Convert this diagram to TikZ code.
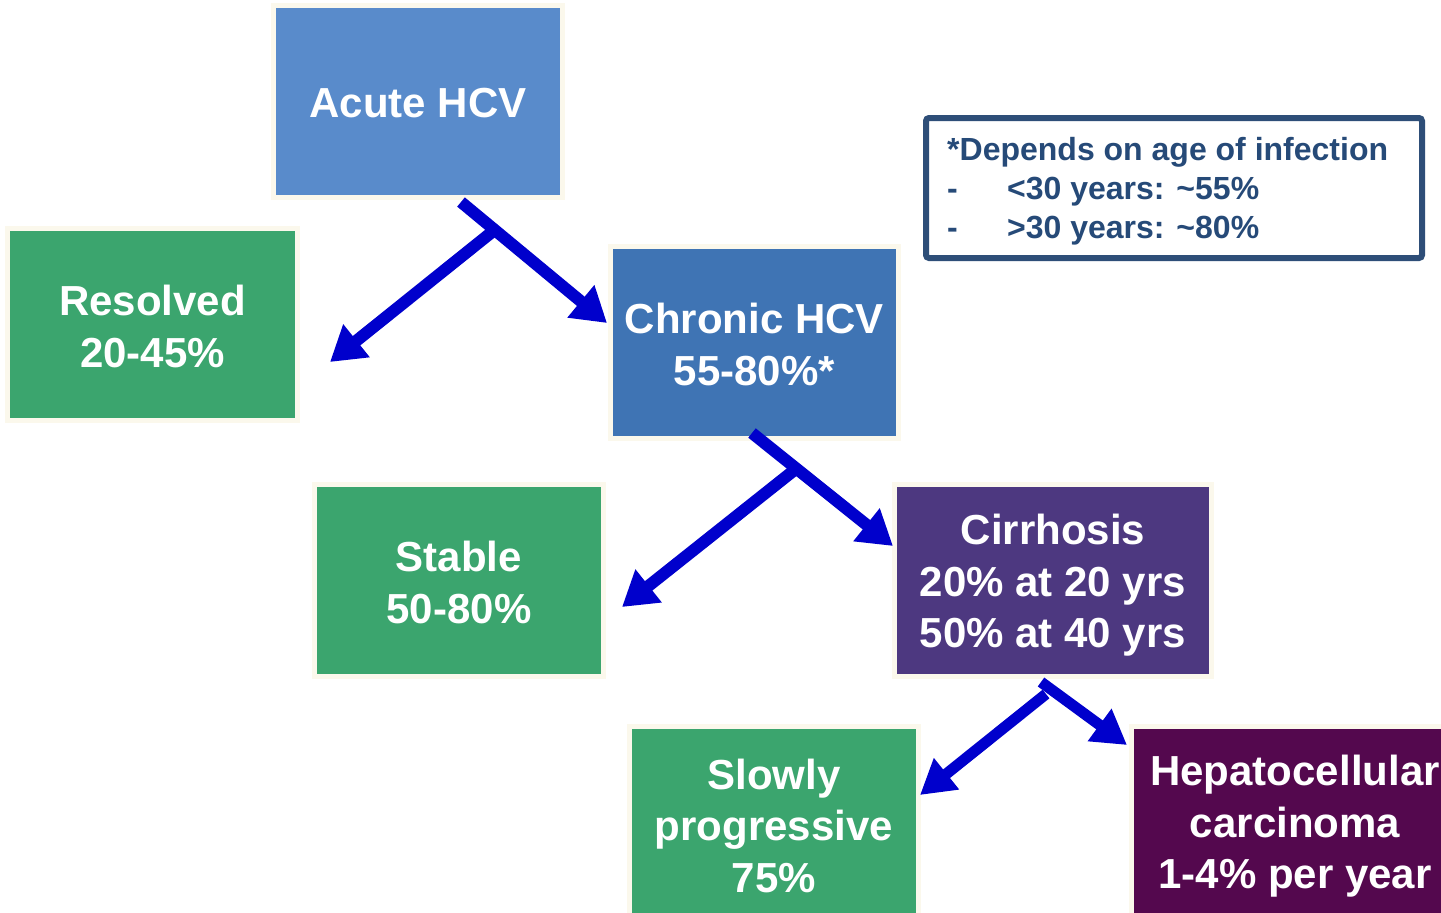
\documentclass[tikz,border=0pt]{standalone}
\usepackage{fontspec}
\setmainfont{Liberation Sans}
\usetikzlibrary{arrows.meta}
\definecolor{cream}{HTML}{FBF8EC}
\definecolor{acuteblue}{HTML}{598BCB}
\definecolor{chronicblue}{HTML}{3F74B4}
\definecolor{boxgreen}{HTML}{3BA56E}
\definecolor{cirrpurple}{HTML}{4D3880}
\definecolor{hccpurple}{HTML}{54084E}
\definecolor{arrowblue}{HTML}{0000CC}
\definecolor{notedark}{HTML}{2E4E78}
\definecolor{notetext}{HTML}{264A78}
\begin{document}
\begin{tikzpicture}[x=1pt,y=-1pt,
  stagebox/.style={draw=cream, line width=5pt, minimum height=192pt, inner sep=0pt},
  stagetext/.style={text=white, align=center, inner sep=0pt,
    font=\bfseries\fontsize{42}{51.5}\selectfont},
  flowarrow/.style={draw=arrowblue, line width=12pt, line cap=butt,
    -{Triangle[length=34pt,width=40pt]}},
  smallarrow/.style={draw=arrowblue, line width=11pt, line cap=butt,
    -{Triangle[length=34pt,width=38pt]}},
  notebox/.style={draw=notedark, line width=6pt, rounded corners=3pt, fill=white,
    minimum width=496pt, minimum height=140pt},
  notetxt/.style={text=notetext, align=left, inner sep=0pt,
    font=\bfseries\fontsize{32}{39}\selectfont}
]
\clip (0,0) rectangle (1441,913);
\useasboundingbox (0,0) rectangle (1441,913);
\fill[white] (0,0) rectangle (1441,913);

\node[stagebox, fill=acuteblue, minimum width=289pt] (acute) at (418,101.5) {};
\node[stagetext] (acutet) at ([yshift=-2pt]acute.center) {Acute HCV};
\node[stagebox, fill=boxgreen, minimum width=290pt] (resolved) at (152.5,324.5) {};
\node[stagetext] (resolvedt) at ([yshift=-2pt]resolved.center) {Resolved\\20-45\%};
\node[stagebox, fill=chronicblue, minimum width=288pt] (chronic) at (754.5,342.5) {};
\node[stagetext] (chronict) at ([yshift=-2pt]chronic.center) {Chronic HCV\\55-80\%*};
\node[stagebox, fill=boxgreen, minimum width=289pt] (stable) at (459,580.5) {};
\node[stagetext] (stablet) at ([yshift=-2pt]stable.center) {Stable\\50-80\%};
\node[stagebox, fill=cirrpurple, minimum width=317pt] (cirrhosis) at (1053,580.5) {};
\node[stagetext] (cirrhosist) at ([yshift=-5pt]cirrhosis.center) {Cirrhosis\\20\% at 20 yrs\\50\% at 40 yrs};
\node[stagebox, fill=boxgreen, minimum width=289pt] (slowly) at (774,822.5) {};
\node[stagetext] (slowlyt) at ([yshift=-3pt]slowly.center) {Slowly\\progressive\\75\%};
\node[stagebox, fill=hccpurple, minimum width=327pt] (hcc) at (1295,822.5) {};
\node[stagetext] (hcct) at ([yshift=-4pt]hcc.center) {Hepatocellular\\carcinoma\\1-4\% per year};

\node[notebox] (note) at (1174,188) {};
\node[notetxt, anchor=west] (notetext) at (947,191)
  {*Depends on age of infection\\\makebox[60pt][l]{-}<30 years: \textasciitilde55\%\\\makebox[60pt][l]{-}>30 years: \textasciitilde80\%};

% arrow group 1
\coordinate (a1s) at (461,202);
\coordinate (a1e) at (607,323);
\coordinate (a1b) at (497,228);
\coordinate (a1l) at (330,362);
\draw[flowarrow] (a1s) -- (a1e);
\draw[flowarrow] (a1b) -- (a1l);

% arrow group 2
\coordinate (a2s) at (752,433);
\coordinate (a2e) at (893,546);
\coordinate (a2b) at (797,468);
\coordinate (a2l) at (622,607);
\draw[flowarrow] (a2s) -- (a2e);
\draw[flowarrow] (a2b) -- (a2l);

% arrow group 3
\coordinate (a3s) at (1041,682);
\coordinate (a3e) at (1127,745);
\coordinate (a3b) at (1046,694);
\coordinate (a3l) at (920,795);
\draw[smallarrow] (a3s) -- (a3e);
\draw[smallarrow] (a3b) -- (a3l);
\end{tikzpicture}
\end{document}
